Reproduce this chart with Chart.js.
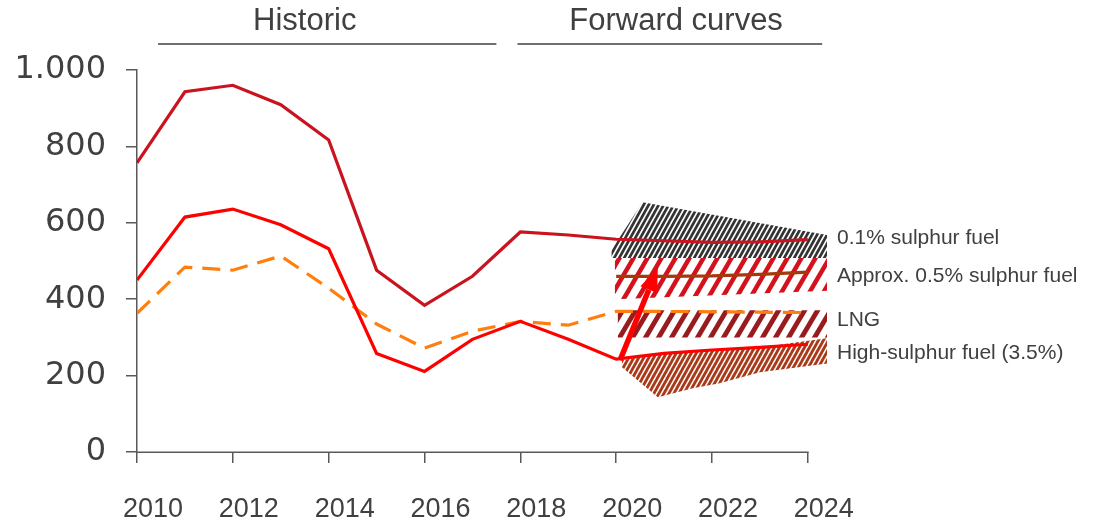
<!DOCTYPE html>
<html>
<head>
<meta charset="utf-8">
<script src="https://cdn.jsdelivr.net/npm/chart.js@4.4.1/dist/chart.umd.min.js"></script>
<style>
  html, body { margin: 0; padding: 0; background: #fff; }
</style>
</head>
<body>
<canvas id="chart" width="1093" height="520"></canvas>
<script>
// data
const years = [2010, 2011, 2012, 2013, 2014, 2015, 2016, 2017, 2018, 2019, 2020, 2021, 2022, 2023, 2024];
const lowSulphur = [757, 943, 960, 909, 817, 476, 384, 460, 576, 568, 557, 553, 549, 550, 556];
const highSulphur = [450, 615, 636, 595, 532, 258, 211, 295, 342, 295, 243, 258, 267, 274, 282];
const lng = [363, 484, 476, 513, 429, 335, 272, 316, 342, 332, 368, 368, 367, 366, 365];
const midYears = [2020, 2021, 2022, 2023, 2024];
const midSulphur = [460, 460, 461, 465, 471];

// forward-curve ranges (hatched)
const bandLowX = [2019.9, 2020.55, 2024.4];
const bandLowTop = [528, 654, 568];
const bandLowBottom = [508, 508, 508];
const bandMidX = [2019.97, 2024.4];
const bandMidTop = [508, 508];
const bandMidBottom = [400, 422];
const bandLngX = [2020.03, 2024.4];
const bandLngTop = [371, 371];
const bandLngBottom = [300, 300];
const bandHighX = [2020.12, 2020.87, 2021.6, 2022.16, 2023.0, 2024.4];
const bandHighTop = [240, 256, 262, 267, 274, 298];
const bandHighBottom = [222, 143, 167, 180, 209, 232];

const arrowFrom = [2020.08, 240];
const arrowTo = [2020.87, 483];

const xTicks = [2010, 2012, 2014, 2016, 2018, 2020, 2022, 2024];
const yTicks = [0, 200, 400, 600, 800, 1000];
const periods = ["Historic", "Forward curves"];
const periodSpans = [[2010.44, 2017.5], [2017.94, 2024.3]];
const periodCenters = [2013.5, 2021.25];
const seriesNames = ["0.1% sulphur fuel", "Approx. 0.5% sulphur fuel", "LNG", "High-sulphur fuel (3.5%)"];
const seriesLabelAt = [560, 460, 346, 259];

const SANS = '"Liberation Sans", Arial, sans-serif';
const TEXT = "#404040";
const AXIS = "#595959";

const pts = (xs, ys) => xs.map((x, i) => ({ x, y: ys[i] }));

// diagonal "/" hatching; lines run past the tile so the seams join up
function hatch(fg, bg, period, rise, width) {
  const c = document.createElement("canvas");
  c.width = period;
  c.height = rise;
  const g = c.getContext("2d");
  if (bg) {
    g.fillStyle = bg;
    g.fillRect(0, 0, period, rise);
  }
  g.strokeStyle = fg;
  g.lineWidth = width;
  for (let i = -2; i <= 2; i++) {
    g.beginPath();
    g.moveTo(i * period - period, 2 * rise);
    g.lineTo(i * period + 2 * period, -rise);
    g.stroke();
  }
  return g.createPattern(c, "repeat");
}

function band(xs, top, bottom, pattern) {
  return [
    { data: pts(xs, top), fill: "+1", backgroundColor: pattern, borderColor: "transparent", borderWidth: 0, pointRadius: 0, order: 10 },
    { data: pts(xs, bottom), fill: false, borderColor: "transparent", borderWidth: 0, pointRadius: 0, order: 10 },
  ];
}

const overlay = {
  id: "overlay",
  afterDatasetsDraw(chart) {
    const { ctx } = chart;
    const x = chart.scales.x;
    const y = chart.scales.y;

    // arrow
    const x0 = x.getPixelForValue(arrowFrom[0]), y0 = y.getPixelForValue(arrowFrom[1]);
    const x1 = x.getPixelForValue(arrowTo[0]), y1 = y.getPixelForValue(arrowTo[1]);
    const ang = Math.atan2(y1 - y0, x1 - x0);
    const head = 24, half = 9;
    const bx = x1 - head * Math.cos(ang), by = y1 - head * Math.sin(ang);
    ctx.save();
    ctx.strokeStyle = "#ff0000";
    ctx.fillStyle = "#ff0000";
    ctx.lineWidth = 5.5;
    ctx.beginPath();
    ctx.moveTo(x0, y0);
    ctx.lineTo(bx, by);
    ctx.stroke();
    ctx.beginPath();
    ctx.moveTo(x1, y1);
    ctx.lineTo(bx + half * Math.sin(ang), by - half * Math.cos(ang));
    ctx.lineTo(bx - half * Math.sin(ang), by + half * Math.cos(ang));
    ctx.closePath();
    ctx.fill();
    ctx.restore();
  },
  afterDraw(chart) {
    const { ctx, chartArea } = chart;
    const x = chart.scales.x;
    const y = chart.scales.y;
    ctx.save();

    // x axis line, ends at the last tick
    ctx.strokeStyle = AXIS;
    ctx.lineWidth = 1.5;
    ctx.beginPath();
    ctx.moveTo(chartArea.left, Math.round(chartArea.bottom) + 0.25);
    ctx.lineTo(x.getPixelForValue(xTicks[xTicks.length - 1]) + 0.75, Math.round(chartArea.bottom) + 0.25);
    ctx.stroke();

    // period headers
    ctx.fillStyle = TEXT;
    ctx.strokeStyle = TEXT;
    ctx.font = "31px " + SANS;
    ctx.textAlign = "center";
    ctx.textBaseline = "middle";
    periods.forEach((p, i) => {
      ctx.fillText(p, x.getPixelForValue(periodCenters[i]), 21);
      ctx.beginPath();
      ctx.moveTo(x.getPixelForValue(periodSpans[i][0]), 44);
      ctx.lineTo(x.getPixelForValue(periodSpans[i][1]), 44);
      ctx.stroke();
    });

    // series names on the right
    ctx.font = "21px " + SANS;
    ctx.textAlign = "left";
    seriesNames.forEach((n, i) => {
      ctx.fillText(n, chartArea.right + 10, y.getPixelForValue(seriesLabelAt[i]));
    });
    ctx.restore();
  },
};

const ctx = document.getElementById("chart").getContext("2d");

new Chart(ctx, {
  type: "line",
  data: {
    datasets: [
      { data: pts(years, lowSulphur), borderColor: "#c9141f", borderWidth: 3.2, pointRadius: 0, order: 2 },
      { data: pts(midYears, midSulphur), borderColor: "#a33a0c", borderWidth: 3.2, pointRadius: 0, order: 2 },
      { data: pts(years, lng), borderColor: "#ff7f0e", borderWidth: 3.2, borderDash: [18, 10], pointRadius: 0, order: 2 },
      { data: pts(years, highSulphur), borderColor: "#ff0000", borderWidth: 3.2, pointRadius: 0, order: 1 },
      ...band(bandLowX, bandLowTop, bandLowBottom, hatch("#ffffff", "#333333", 5, 9, 1.6)),
      ...band(bandMidX, bandMidTop, bandMidBottom, hatch("#d4121e", null, 14, 24, 4.5)),
      ...band(bandLngX, bandLngTop, bandLngBottom, hatch("#981b1e", null, 13, 22, 4.8)),
      ...band(bandHighX, bandHighTop, bandHighBottom, hatch("#ffffff", "#a83a1a", 5, 9, 1.5)),
    ],
  },
  options: {
    responsive: false,
    animation: false,
    events: [],
    layout: { padding: { left: 0, right: 266, top: 70, bottom: 0 } },
    elements: { line: { tension: 0 } },
    plugins: { legend: { display: false }, tooltip: { enabled: false } },
    scales: {
      x: {
        type: "linear",
        min: 2010,
        max: 2024.4,
        afterBuildTicks: (s) => { s.ticks = xTicks.map((v) => ({ value: v })); },
        afterFit: (s) => { s.height = 68; },
        border: { display: false },
        grid: { drawOnChartArea: false, drawTicks: true, tickLength: 11, color: AXIS, lineWidth: 1.5 },
        ticks: {
          color: TEXT,
          font: { family: SANS, size: 27 },
          padding: 30,
          labelOffset: 16,
          maxRotation: 0,
          autoSkip: false,
          callback: (v) => String(v),
        },
      },
      y: {
        min: 0,
        max: 1000,
        afterBuildTicks: (s) => { s.ticks = yTicks.map((v) => ({ value: v })); },
        afterFit: (s) => { s.width = 137; },
        border: { display: true, color: AXIS, width: 1.5 },
        grid: { drawOnChartArea: false, drawTicks: true, tickLength: 11, color: AXIS, lineWidth: 1.5 },
        ticks: {
          color: TEXT,
          font: { family: '"DejaVu Sans", Verdana, sans-serif', size: 32 },
          padding: 20,
          callback: (v) => String(v).replace(/\B(?=(\d{3})+(?!\d))/g, "."),
        },
      },
    },
  },
  plugins: [overlay],
});
</script>
</body>
</html>
